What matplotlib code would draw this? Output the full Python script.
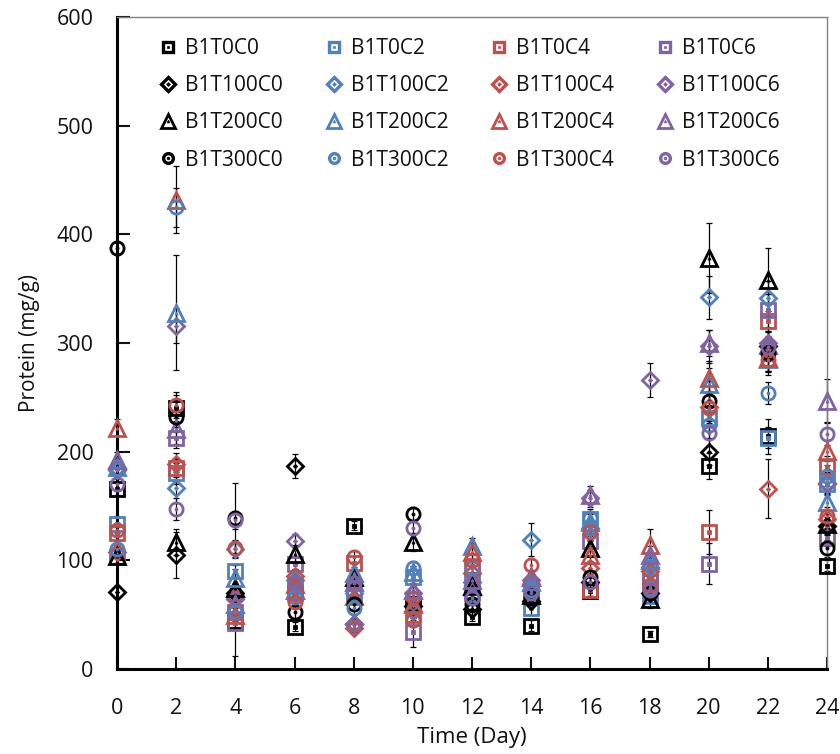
import matplotlib
matplotlib.use("Agg")
import matplotlib.pyplot as plt
from matplotlib.lines import Line2D
from matplotlib.legend_handler import HandlerTuple

plt.rcParams['font.family'] = ['Open Sans', 'DejaVu Sans']

days = [0, 2, 4, 6, 8, 10, 12, 14, 16, 18, 20, 22, 24]

t_levels = ["T0", "T100", "T200", "T300"]
c_levels = ["C0", "C2", "C4", "C6"]

# Protein (mg/g) per series
B1T0C0 = [166, 240, 44, 39, 132, 60, 48, 40, 72, 32, 187, 214, 95]
B1T0C2 = [133, 180, 90, 76, 70, 85, 80, 56, 138, 67, 231, 213, 170]
B1T0C4 = [125, 185, 52, 70, 98, 50, 95, 75, 73, 80, 126, 320, 186]
B1T0C6 = [103, 213, 42, 97, 75, 34, 70, 72, 118, 86, 97, 330, 121]
B1T100C0 = [71, 105, 70, 187, 41, 58, 55, 63, 80, 70, 200, 297, 132]
B1T100C2 = [185, 167, 110, 82, 70, 53, 68, 119, 130, 94, 342, 341, 170]
B1T100C4 = [108, 189, 66, 86, 38, 65, 88, 78, 93, 90, 241, 166, 138]
B1T100C6 = [183, 316, 64, 118, 41, 70, 80, 82, 157, 266, 297, 300, 171]
B1T200C0 = [104, 117, 75, 106, 85, 117, 76, 68, 111, 64, 378, 358, 133]
B1T200C2 = [186, 328, 84, 73, 88, 89, 113, 80, 135, 100, 262, 285, 154]
B1T200C4 = [222, 432, 50, 78, 67, 60, 108, 85, 105, 114, 268, 286, 201]
B1T200C6 = [192, 221, 60, 73, 80, 73, 82, 85, 160, 105, 300, 298, 247]
B1T300C0 = [387, 232, 139, 52, 60, 143, 60, 65, 85, 70, 247, 291, 111]
B1T300C2 = [110, 425, 52, 66, 56, 93, 93, 73, 139, 75, 225, 254, 178]
B1T300C4 = [128, 243, 111, 62, 103, 45, 100, 96, 126, 77, 240, 284, 141]
B1T300C6 = [170, 147, 137, 79, 79, 130, 65, 70, 80, 73, 217, 296, 216]

# standard deviations (error bars)
E_T0C0 = [6, 12, 5, 4, 4, 5, 4, 5, 5, 3, 12, 16, 5]
E_T0C2 = [8, 10, 6, 5, 5, 6, 5, 6, 6, 5, 12, 10, 8]
E_T0C4 = [6, 8, 6, 5, 6, 5, 6, 6, 6, 6, 20, 15, 10]
E_T0C6 = [5, 10, 30, 6, 6, 14, 6, 5, 6, 6, 19, 15, 8]
E_T100C0 = [5, 21, 8, 11, 5, 6, 5, 6, 5, 6, 12, 14, 8]
E_T100C2 = [8, 14, 8, 6, 6, 6, 6, 15, 8, 8, 20, 16, 10]
E_T100C4 = [6, 10, 6, 6, 4, 6, 5, 6, 6, 6, 15, 27, 8]
E_T100C6 = [8, 16, 8, 6, 5, 6, 6, 6, 8, 16, 15, 14, 10]
E_T200C0 = [6, 12, 10, 8, 6, 8, 6, 6, 8, 8, 32, 29, 10]
E_T200C2 = [8, 53, 8, 6, 6, 6, 8, 6, 8, 8, 15, 12, 10]
E_T200C4 = [8, 31, 8, 6, 6, 6, 8, 6, 8, 15, 15, 12, 10]
E_T200C6 = [8, 14, 8, 6, 6, 6, 6, 6, 8, 8, 12, 12, 20]
E_T300C0 = [6, 14, 32, 6, 6, 6, 6, 6, 6, 8, 18, 20, 8]
E_T300C2 = [8, 18, 8, 6, 6, 6, 6, 6, 8, 8, 12, 10, 10]
E_T300C4 = [6, 12, 8, 6, 6, 6, 6, 6, 8, 8, 12, 10, 8]
E_T300C6 = [6, 10, 8, 6, 6, 6, 6, 6, 6, 6, 12, 10, 10]

values = [B1T0C0, B1T0C2, B1T0C4, B1T0C6,
          B1T100C0, B1T100C2, B1T100C4, B1T100C6,
          B1T200C0, B1T200C2, B1T200C4, B1T200C6,
          B1T300C0, B1T300C2, B1T300C4, B1T300C6]
errors = [E_T0C0, E_T0C2, E_T0C4, E_T0C6,
          E_T100C0, E_T100C2, E_T100C4, E_T100C6,
          E_T200C0, E_T200C2, E_T200C4, E_T200C6,
          E_T300C0, E_T300C2, E_T300C4, E_T300C6]

colors = {"C0": "#000000", "C2": "#4f81bd", "C4": "#c0504d", "C6": "#8064a2"}
markers = {"T0": ("s", 9.5), "T100": ("D", 8.5), "T200": ("^", 11), "T300": ("o", 9.5)}
leg_sizes = {"T0": 7.0, "T100": 7.0, "T200": 10.0, "T300": 7.0}
leg_mew = {"T0": 2.4, "T100": 2.4, "T200": 2.0, "T300": 2.4}

fig = plt.figure(figsize=(8.4, 7.54), dpi=100)
ax = fig.add_axes([117 / 840, 1 - 669 / 754, (827 - 117) / 840, (669 - 17) / 754])

handles = {}
i = 0
for t in t_levels:
    for c in c_levels:
        y = values[i]
        e = errors[i]
        col = colors[c]
        mk, ms = markers[t]
        ax.errorbar(days, y, yerr=e, fmt="none", ecolor="black", elinewidth=0.9,
                    capsize=2.5, capthick=0.9, zorder=2, clip_on=False)
        ax.plot(days, y, linestyle="none", marker=mk, markersize=ms,
                markerfacecolor="none", markeredgecolor=col,
                markeredgewidth=2.0, zorder=3, clip_on=False)
        ax.plot(days, y, linestyle="none", marker=mk, markersize=2.2,
                markerfacecolor=col, markeredgecolor=col,
                markeredgewidth=0.6, zorder=3, clip_on=False)
        lo = Line2D([], [], linestyle="none", marker=mk, markersize=leg_sizes[t],
                    markerfacecolor="none", markeredgecolor=col,
                    markeredgewidth=leg_mew[t])
        li = Line2D([], [], linestyle="none", marker=mk, markersize=2.0,
                    markerfacecolor=col, markeredgecolor=col, markeredgewidth=0.5)
        handles[(t, c)] = (lo, li)
        i += 1

ax.set_xlim(0, 24)
ax.set_ylim(0, 600)
ax.set_xticks(days)
ax.set_yticks([0, 100, 200, 300, 400, 500, 600])
ax.tick_params(direction="in", length=9, width=1.5, labelsize=15.5, colors="#111111")
ax.tick_params(axis="y", pad=17)
ax.tick_params(axis="x", pad=21)
for s in ["left", "bottom"]:
    ax.spines[s].set_linewidth(2.2)
    ax.spines[s].set_color("black")
for s in ["top", "right"]:
    ax.spines[s].set_linewidth(1.0)
    ax.spines[s].set_color("#808080")

ax.set_xlabel("Time (Day)", fontsize=16, labelpad=6, color="#111111")
ax.set_ylabel("Protein (mg/g)", fontsize=15, labelpad=12, color="#111111")

leg_handles = []
leg_labels = []
for c in c_levels:
    for t in t_levels:
        leg_handles.append(handles[(t, c)])
        leg_labels.append("B1" + t + c)

leg = ax.legend(leg_handles, leg_labels, ncol=4, loc="upper left",
                bbox_to_anchor=(0.0577, 0.968), frameon=False, fontsize=15,
                handlelength=1.0, handletextpad=0.3, columnspacing=1.95,
                labelspacing=0.78, borderpad=0, borderaxespad=0, numpoints=1,
                handler_map={tuple: HandlerTuple(ndivide=1, pad=0)})
for txt in leg.get_texts():
    txt.set_color("#111111")

fig.savefig("out.png", dpi=100)
